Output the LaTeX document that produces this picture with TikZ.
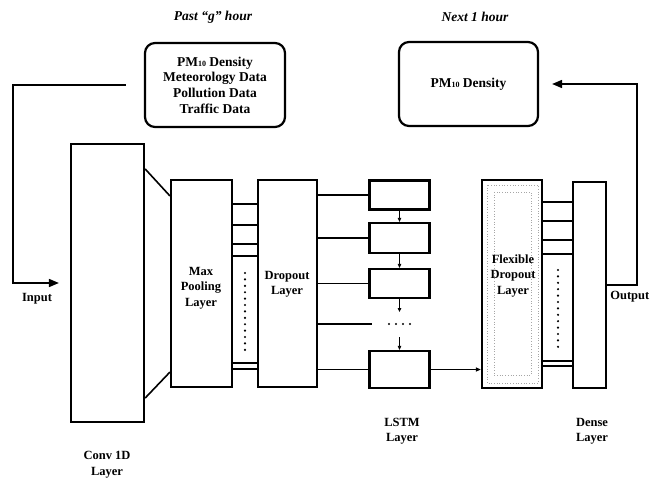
\documentclass[tikz,border=0pt]{standalone}
\usepackage{fontspec}
\setmainfont{Liberation Serif}
\usetikzlibrary{arrows.meta}
\newcommand{\lblfont}{\bfseries\fontsize{12.5}{15.5}\selectfont}
\newcommand{\boxfont}{\bfseries\fontsize{13.5}{15.7}\selectfont}
\newcommand{\pmten}{PM{\fontsize{8}{8}\selectfont\raisebox{-0.6pt}{10}}}
\begin{document}
\begin{tikzpicture}[x=1pt,y=-1pt,
  blk/.style={draw, line width=2.2pt, inner sep=0pt},
  rbox/.style={draw, line width=2.2pt, rounded corners=10pt, inner sep=0pt, align=center, font=\boxfont},
  wire/.style={line width=1.6pt},
  thinwire/.style={line width=0.8pt},
  lbl/.style={align=center, font=\lblfont, inner sep=0pt},
  head/.style={font=\boxfont\itshape, inner sep=0pt},
  vdots/.style={line width=2.4pt, line cap=round, dash pattern=on 0pt off 6.4pt},
  bigtip/.style={-{Triangle[length=10pt,width=8pt]}},
  smalltip/.style={-{Triangle[length=4pt,width=3.5pt]}}
]
\useasboundingbox (0,0) rectangle (650,477);

% headings
\node[head] (past) at (213,17) {Past “g” hour};
\node[head] (next) at (475,17) {Next 1 hour};

% top boxes
\node[rbox, minimum width=140pt, minimum height=84pt] (inbox) at (215,85)
  {\pmten{} Density\\Meteorology Data\\Pollution Data\\Traffic Data};
\node[rbox, minimum width=139pt, minimum height=84pt] (outbox) at (468.5,84)
  {\pmten{} Density};

% layers
\node[blk, minimum width=73pt, minimum height=278pt] (conv) at (107.5,283) {};
\node[blk, minimum width=61pt, minimum height=207pt] (maxpool) at (201.5,283.5) {};
\node[blk, minimum width=59pt, minimum height=207pt] (dropout) at (287.5,283.5) {};
\node[blk, minimum width=60pt, minimum height=29pt] (lstm1) at (399.5,195) {};
\node[blk, minimum width=60pt, minimum height=30pt] (lstm2) at (399.5,238) {};
\node[blk, minimum width=60pt, minimum height=29pt] (lstm3) at (399.5,283.5) {};
\node[blk, minimum width=60pt, minimum height=37pt] (lstm4) at (399.5,369.5) {};
\node[blk, minimum width=60pt, minimum height=208pt] (flex) at (512,284) {};
\node[blk, minimum width=33pt, minimum height=206pt] (dense) at (589.5,285) {};

% dotted frames inside flexible dropout
\draw[gray!70, line width=0.7pt, dotted] ([xshift=6pt,yshift=-6pt]flex.north west) rectangle ([xshift=-5pt,yshift=6pt]flex.south east);
\draw[gray!70, line width=0.7pt, dotted] ([xshift=13pt,yshift=-13pt]flex.north west) rectangle ([xshift=-12pt,yshift=14pt]flex.south east);

% texts in layers
\node[lbl] (mptext) at (201,288) {Max\\Pooling\\Layer};
\node[lbl] (dotext) at (287,284.5) {Dropout\\Layer};
\node[lbl] (fltext) at (513,276) {Flexible\\Dropout\\Layer};

% labels
\node[lbl] (inlbl) at (37,299) {Input};
\node[lbl, anchor=east] (outlbl) at (649.5,297) {Output};
\node[lbl] (convlbl) at (107,464.5) {Conv 1D\\Layer};
\node[lbl] (lstmlbl) at (402,431) {LSTM\\Layer};
\node[lbl] (denselbl) at (592,431) {Dense\\Layer};

% conv -> maxpool
\draw[wire] ([yshift=-26pt]conv.north east) -- ([yshift=-17pt]maxpool.north west);
\draw[wire] ([yshift=25pt]conv.south east) -- ([yshift=16pt]maxpool.south west);

% maxpool -> dropout
\foreach \d in {25,46,65,77,184,190}
  \draw[wire] ([yshift=-\d pt]maxpool.north east) -- ([yshift=-\d pt]dropout.north west);
\draw[vdots] (245,273) -- (245,351);

% dropout -> lstm
\foreach \n in {lstm1,lstm2,lstm3,lstm4}
  \draw[wire] (dropout.east |- \n.west) -- (\n.west);
\coordinate (dts) at (372,324);
\draw[wire] (dropout.east |- dts) -- (dts);
\draw[line width=2.2pt, line cap=round, dash pattern=on 0pt off 7pt] (389,324) -- (412,324);

% lstm chain
\coordinate (a3) at (399.5,312);
\coordinate (a4) at (399.5,337);
\draw[thinwire, smalltip] (lstm1.south) -- (lstm2.north);
\draw[thinwire, smalltip] (lstm2.south) -- (lstm3.north);
\draw[thinwire, smalltip] (lstm3.south) -- (a3);
\draw[thinwire, smalltip] (a4) -- (lstm4.north);

% lstm -> flex
\draw[line width=1.2pt, -{Triangle[length=5pt,width=4pt]}] (lstm4.east) -- (flex.west |- lstm4.east);

% flex -> dense
\foreach \d in {23,42,61,75,182,187}
  \draw[wire] ([yshift=-\d pt]flex.north east) coordinate (fa) -- (fa -| dense.west);
\draw[vdots] (558,270) -- (558,348);

% input
\coordinate (ic) at (13,283);
\draw[wire, bigtip] ([xshift=-18pt]inbox.west) -| (ic) -- ([xshift=-11pt]conv.west |- ic);

% output
\coordinate (oc) at (637,84);
\draw[wire, bigtip] (dense.east) -| (oc) -- ([xshift=13pt]outbox.east);
\end{tikzpicture}
\end{document}
